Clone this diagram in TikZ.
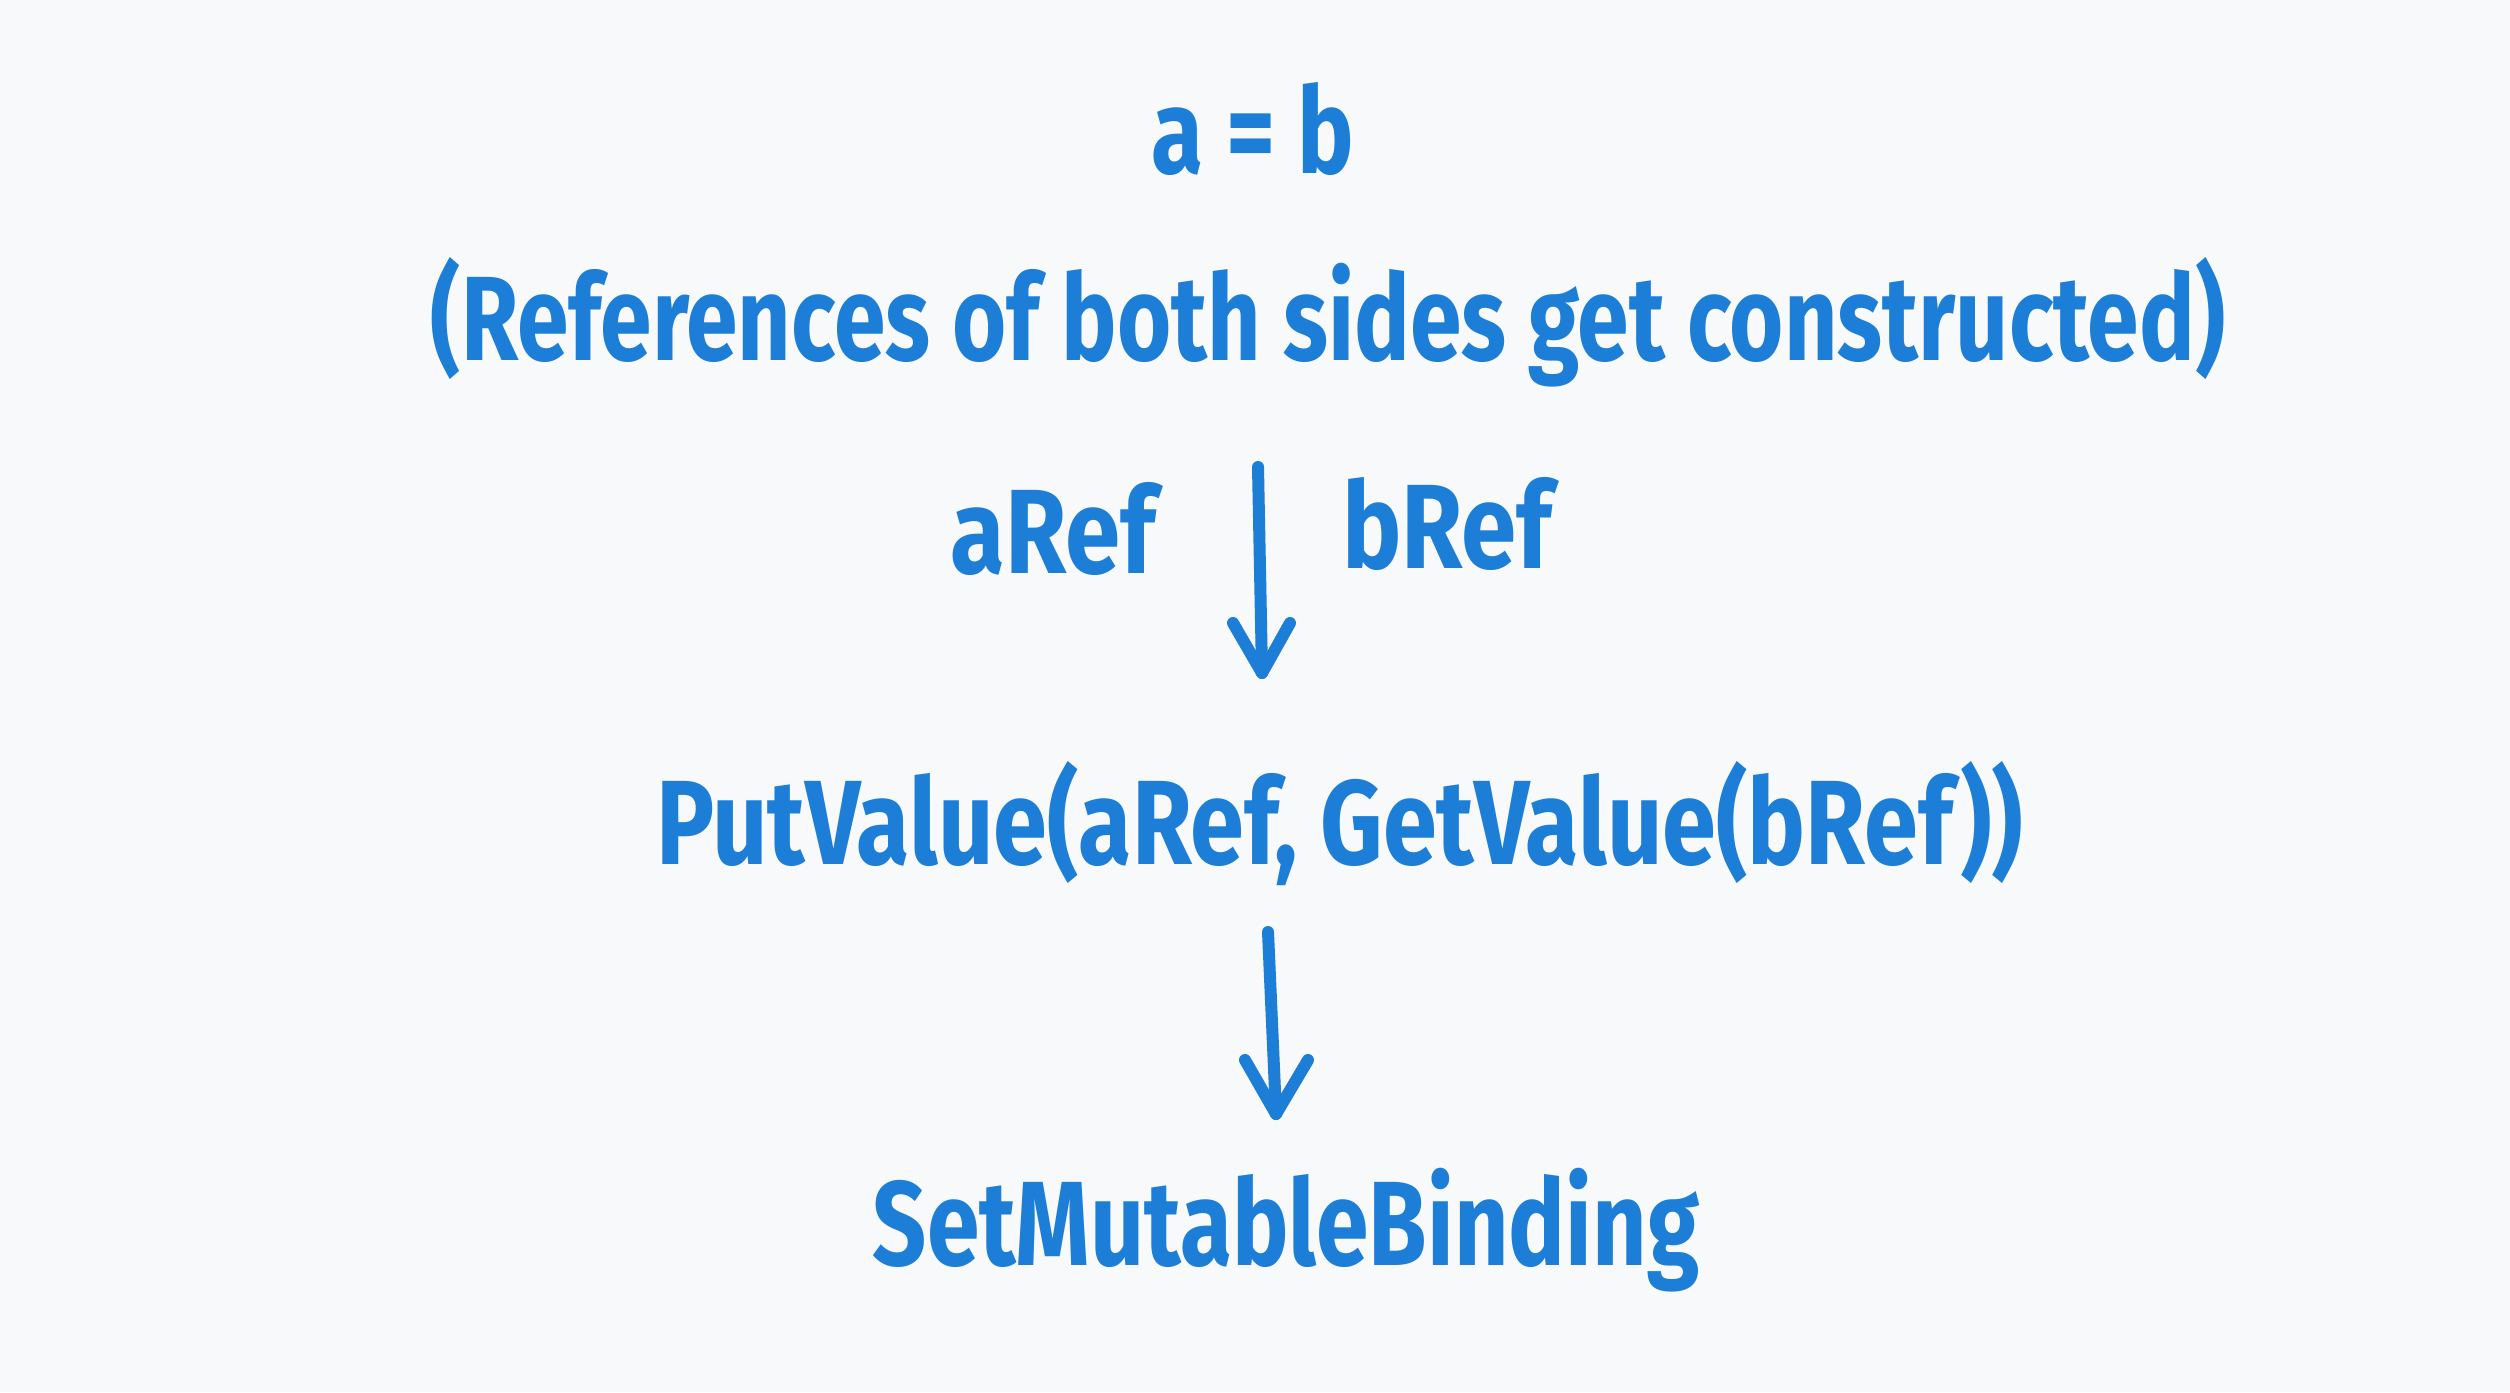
\documentclass[tikz,border=0pt]{standalone}
\usepackage{fontspec}
\setmainfont{Fira Sans}
\definecolor{bg}{HTML}{F8F9FA}
\definecolor{ink}{HTML}{1C7ED6}
\begin{document}
\begin{tikzpicture}[x=1pt,y=-1pt,
  lbl/.style={text=ink,inner sep=0pt,anchor=base,font=\fontsize{120}{130}\selectfont\bfseries,transform shape},
  flow/.style={draw=ink,line width=12pt,line cap=round,line join=round}]
\fill[bg] (0,0) rectangle (2510,1392);
\useasboundingbox (0,0) rectangle (2510,1392);
\node[lbl,xscale=0.79] (eq) at (1253,173) {a = b};
\node[lbl,xscale=0.775] (refs) at (1328,360) {(References of both sides get constructed)};
\node[lbl,xscale=0.83] (aref) at (1053,573) {aRef};
\node[lbl,xscale=0.83] (bref) at (1447,568) {bRef};
\node[lbl,xscale=0.81] (put) at (1340,864) {PutValue(aRef, GetValue(bRef))};
\node[lbl,xscale=0.79] (smb) at (1286,1265) {SetMutableBinding};
\coordinate (a1s) at (1258,467);
\coordinate (a1e) at (1262,673);
\coordinate (a2s) at (1268,932);
\coordinate (a2e) at (1276,1114);
\draw[flow] (a1s) -- (a1e);
\draw[flow] (1233,623) -- (a1e) -- (1290,623);
\draw[flow] (a2s) -- (a2e);
\draw[flow] (1245,1060) -- (a2e) -- (1308,1060);
\end{tikzpicture}
\end{document}
